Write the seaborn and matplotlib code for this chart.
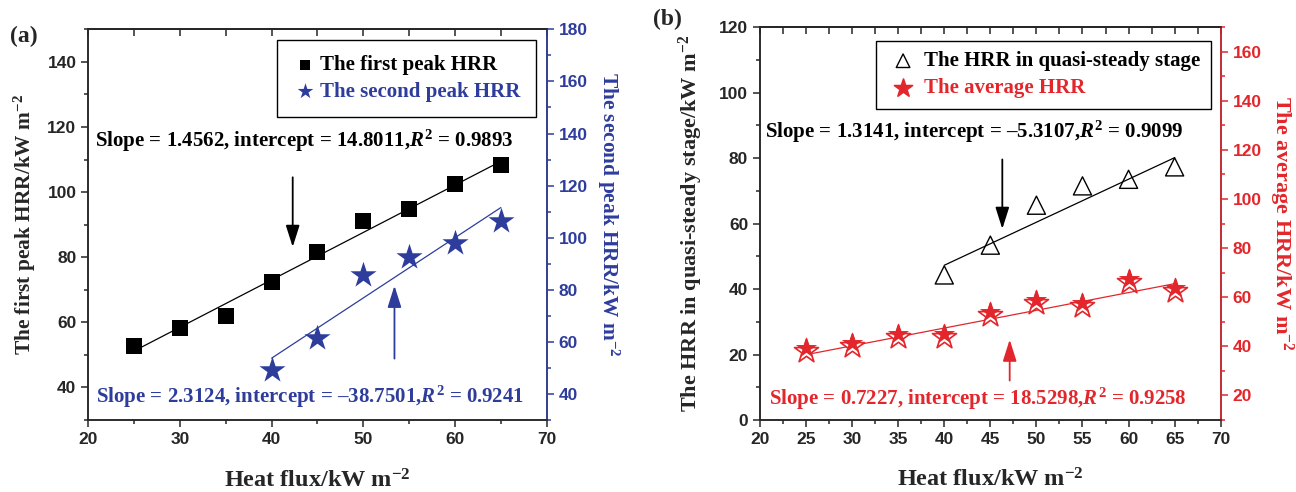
import matplotlib
matplotlib.use("Agg")
import numpy as np
import matplotlib.pyplot as plt
import matplotlib.transforms as mtransforms
from matplotlib.legend_handler import HandlerTuple
from matplotlib.ticker import MultipleLocator
import seaborn as sns

# ---- data ---------------------------------------------------------------
heat_flux = [25, 30, 35, 40, 45, 50, 55, 60, 65]
first_peak_hrr = [52.8, 58.4, 62.1, 72.4, 81.5, 91.0, 94.8, 102.5, 108.2]

flux_second = [40, 45, 50, 55, 60, 65]
second_peak_hrr = [49.3, 61.4, 85.7, 92.4, 97.8, 106.4]

flux_quasi = [40, 45, 50, 55, 60, 65]
quasi_steady_hrr = [44.3, 53.4, 65.6, 71.5, 73.5, 77.3]

average_hrr = [38.2, 40.1, 43.7, 43.9, 52.7, 57.5, 56.4, 66.3, 62.5]

# linear fits: slope, intercept, R^2
fit_first = (1.4562, 14.8011, 0.9893)
fit_second = (2.3124, -38.7501, 0.9241)
fit_quasi = (1.3141, -5.3107, 0.9099)
fit_average = (0.7227, 18.5298, 0.9258)

BLUE = "#2E3D9C"
RED = "#E3262B"
SERIF = "Liberation Serif"
SANS = "Liberation Sans"

sns.set_theme(style="ticks")
plt.rcParams.update({
    "font.family": [SERIF, "DejaVu Sans"],
    "font.weight": "bold",
    "mathtext.fontset": "custom",
    "mathtext.rm": "Liberation Serif:bold",
    "mathtext.bf": "Liberation Serif:bold",
    "mathtext.it": "Liberation Serif:bold:italic",
    "axes.linewidth": 1.1,
})

fig = plt.figure(figsize=(12.96, 4.92), dpi=100)
ax_a = fig.add_axes([0.0681, 0.1463, 0.3537, 0.7941])
ax_b = fig.add_axes([0.5864, 0.1463, 0.3555, 0.7988])


def fit_text(fit):
    slope, intercept, r2 = fit
    inter = f"{intercept:.4f}".replace("-", "\u2013")
    return f"Slope = {slope:.4f}, intercept = {inter},$R^2$ = {r2:.4f}"


def fit_line(ax, xs, fit, color):
    slope, intercept, _ = fit
    x = np.array([min(xs), max(xs)], dtype=float)
    sns.lineplot(x=x, y=slope * x + intercept, ax=ax, color=color, lw=0.9,
                 zorder=2)


def style_axis(ax, xmajor, xminor, ymajor, yminor, ylim):
    ax.set_xlim(20, 70)
    ax.set_ylim(*ylim)
    ax.xaxis.set_major_locator(MultipleLocator(xmajor))
    ax.xaxis.set_minor_locator(MultipleLocator(xminor))
    ax.yaxis.set_major_locator(MultipleLocator(ymajor))
    ax.yaxis.set_minor_locator(MultipleLocator(yminor))
    ax.tick_params(which="major", direction="out", length=5, width=1.1,
                   labelsize=12.5, labelfontfamily=SANS, top=False,
                   right=False)
    ax.tick_params(which="minor", direction="out", length=3, width=1.1,
                   top=False, right=False)
    top = ax.secondary_xaxis("top")
    top.xaxis.set_major_locator(MultipleLocator(xmajor))
    top.xaxis.set_minor_locator(MultipleLocator(xminor))
    top.tick_params(which="major", direction="in", length=5, width=1.1,
                    labeltop=False)
    top.tick_params(which="minor", direction="in", length=5, width=1.1)
    top.spines["top"].set_linewidth(1.1)


def style_twin(ax, color, ymajor, yminor, ylim):
    ax.set_ylim(*ylim)
    ax.yaxis.set_major_locator(MultipleLocator(ymajor))
    ax.yaxis.set_minor_locator(MultipleLocator(yminor))
    ax.tick_params(axis="y", which="major", direction="out", length=5,
                   width=1.1, colors=color, labelsize=12.5,
                   labelfontfamily=SANS)
    ax.tick_params(axis="y", which="minor", direction="out", length=3,
                   width=1.1, colors=color)
    ax.spines["right"].set_color(color)
    ax.spines["right"].set_linewidth(1.1)


def bold_ticks(*axes):
    for ax in axes:
        for lab in ax.get_xticklabels() + ax.get_yticklabels():
            lab.set_fontweight("bold")
            lab.set_fontfamily(SANS)


xlabel_kw = dict(fontsize=17.5, fontweight="bold", fontfamily=SERIF)
note_kw = dict(fontsize=15, fontweight="bold", fontfamily=SERIF)
legend_font = dict(family=SERIF, weight="bold", size=15)
arrow_style = "-|>,head_length=1.1,head_width=0.35"

# ---- panel (a) ----------------------------------------------------------
tw_a = ax_a.twinx()
fit_line(ax_a, heat_flux, fit_first, "black")
sns.scatterplot(x=heat_flux, y=first_peak_hrr, ax=ax_a, marker="s", s=135,
                color="black", linewidth=0, zorder=3, legend=False)
fit_line(tw_a, flux_second, fit_second, BLUE)
sns.scatterplot(x=flux_second, y=second_peak_hrr, ax=tw_a, marker="*",
                s=390, color=BLUE, linewidth=0, zorder=3, legend=False)

style_axis(ax_a, 10, 5, 20, 10, (30, 150))
style_twin(tw_a, BLUE, 20, 10, (30, 180))
ax_a.set_xlabel("Heat flux/kW m$^{-2}$", labelpad=16, **xlabel_kw)
ax_a.set_ylabel("The first peak HRR/kW m$^{-2}$", labelpad=7,
                fontsize=15.4, fontweight="bold", fontfamily=SERIF)
tw_a.set_ylabel("The second peak HRR/kW m$^{-2}$", rotation=270,
                labelpad=24, color=BLUE, fontsize=15.4, fontweight="bold",
                fontfamily=SERIF)
tw_a.yaxis.label.set_y(0.527)

ax_a.text(20.7, 115.6, fit_text(fit_first), va="center", ha="left",
          color="black", **note_kw)
ax_a.text(20.8, 37.2, fit_text(fit_second), va="center", ha="left",
          color=BLUE, **note_kw)
ax_a.annotate("", xy=(42.3, 82.3), xytext=(42.3, 105.4),
              arrowprops=dict(arrowstyle=arrow_style, color="black", lw=1.3))
ax_a.annotate("", xy=(53.4, 72.1), xytext=(53.4, 48.0),
              arrowprops=dict(arrowstyle=arrow_style, color=BLUE, lw=1.3))

h1 = ax_a.collections[-1]
h2 = tw_a.collections[-1]
leg_a = tw_a.legend([h1, h2], ["The first peak HRR", "The second peak HRR"],
                    loc="upper right", bbox_to_anchor=(0.976, 0.973),
                    borderaxespad=0, fancybox=False, framealpha=1,
                    edgecolor="black", prop=legend_font,
                    labelcolor=["black", BLUE], markerscale=0.6,
                    handletextpad=0.1, handlelength=1.2, borderpad=0.75,
                    labelspacing=0.3)
leg_a.get_frame().set_linewidth(1.0)
fig.text(0.008, 0.925, "(a)", fontsize=17, fontweight="bold",
         fontfamily=SERIF, va="center")

# ---- panel (b) ----------------------------------------------------------
tw_b = ax_b.twinx()
fit_line(ax_b, flux_quasi, fit_quasi, "black")
sns.scatterplot(x=flux_quasi, y=quasi_steady_hrr, ax=ax_b, marker="^",
                s=170, facecolor="none", edgecolor="black", linewidth=1.0,
                zorder=3, legend=False)
fit_line(tw_b, heat_flux, fit_average, RED)
sns.scatterplot(x=heat_flux, y=average_hrr, ax=tw_b, marker="*", s=330,
                facecolor="white", edgecolor=RED, linewidth=1.2, zorder=3,
                legend=False)
lift = mtransforms.ScaledTranslation(0, 2.2 / 72, fig.dpi_scale_trans)
sns.scatterplot(x=heat_flux, y=average_hrr, ax=tw_b, marker="*", s=260,
                color=RED, linewidth=0, zorder=4, legend=False,
                transform=tw_b.transData + lift)

style_axis(ax_b, 5, 2.5, 20, 10, (0, 120))
style_twin(tw_b, RED, 20, 10, (10, 170))
tw_b.set_yticks(np.arange(20, 161, 20))
ax_b.set_xlabel("Heat flux/kW m$^{-2}$", labelpad=15.5, **xlabel_kw)
ax_b.set_ylabel("The HRR in quasi-steady stage/kW m$^{-2}$", labelpad=10,
                fontsize=16, fontweight="bold", fontfamily=SERIF)
tw_b.set_ylabel("The average HRR/kW m$^{-2}$", rotation=270, labelpad=24,
                color=RED, fontsize=16, fontweight="bold", fontfamily=SERIF)

ax_b.text(20.5, 88.0, fit_text(fit_quasi), va="center", ha="left",
          color="black", **note_kw)
ax_b.text(21.0, 6.6, fit_text(fit_average), va="center", ha="left",
          color=RED, **note_kw)
ax_b.annotate("", xy=(46.3, 57.5), xytext=(46.3, 80.4),
              arrowprops=dict(arrowstyle=arrow_style, color="black", lw=1.3))
ax_b.annotate("", xy=(47.1, 25.4), xytext=(47.1, 11.2),
              arrowprops=dict(arrowstyle=arrow_style, color=RED, lw=1.3))

tri = ax_b.collections[-1]
star_open = tw_b.collections[-2]
star_fill = tw_b.collections[-1]
leg_b = tw_b.legend([tri, (star_open, star_fill)],
                    ["The HRR in quasi-steady stage", "The average HRR"],
                    handler_map={tuple: HandlerTuple(ndivide=1, pad=0)},
                    loc="upper right", bbox_to_anchor=(0.978, 0.965),
                    borderaxespad=0, fancybox=False, framealpha=1,
                    edgecolor="black", prop=legend_font,
                    labelcolor=["black", RED], markerscale=0.75,
                    handletextpad=0.2, handlelength=1.6, borderpad=0.5,
                    labelspacing=0.35)
leg_b.get_frame().set_linewidth(1.0)
fig.text(0.504, 0.96, "(b)", fontsize=17, fontweight="bold",
         fontfamily=SERIF, va="center")

bold_ticks(ax_a, tw_a, ax_b, tw_b)

fig.savefig("out.png", dpi=100)
